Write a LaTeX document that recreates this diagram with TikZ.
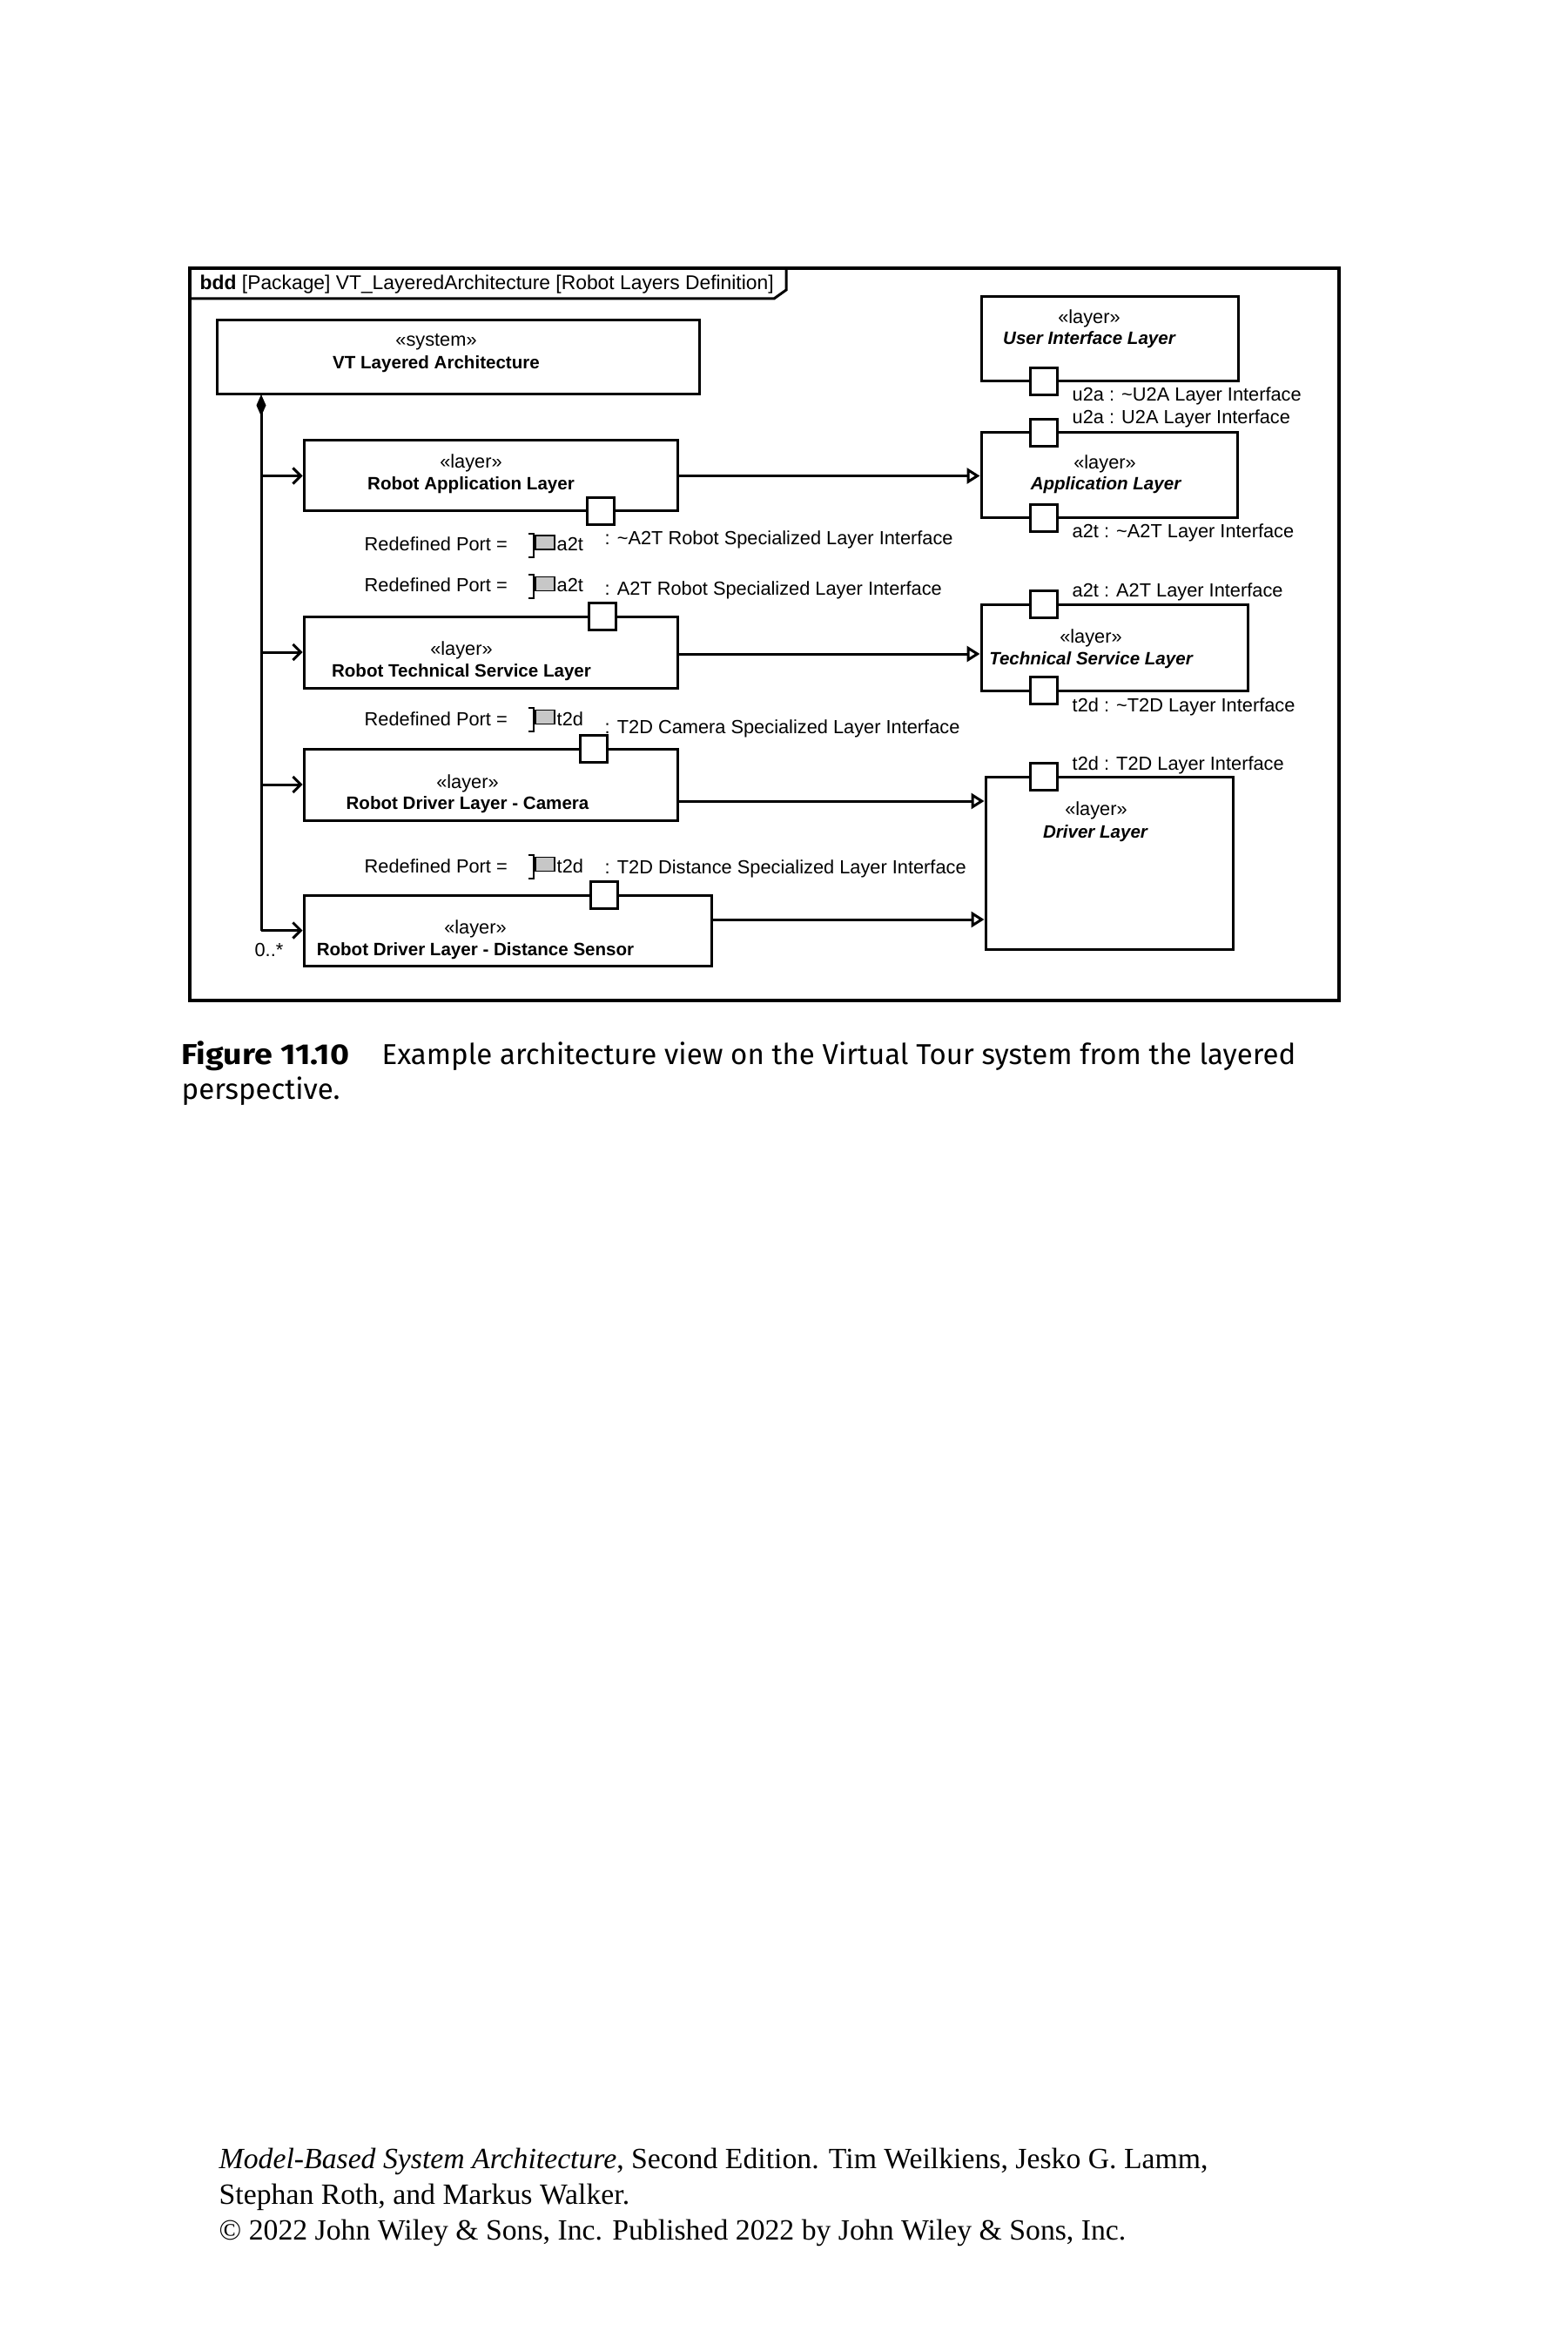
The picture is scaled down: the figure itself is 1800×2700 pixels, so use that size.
\documentclass[tikz,border=0pt]{standalone}
\usepackage{fontspec}
\setmainfont{Liberation Sans}
\newfontfamily\capfont{Fira Sans}
\newfontfamily\capnumfont[FakeStretch=1.14]{Fira Sans}
\newfontfamily\bookfont{Liberation Serif}
\usetikzlibrary{arrows.meta}
\usetikzlibrary{fit}

\newcommand{\umlsize}{\fontsize{6.2}{7.5}\selectfont}
\newcommand{\namesize}{\fontsize{5.85}{7}\selectfont}

\begin{document}
\begin{tikzpicture}[x=0.1mm,y=-0.1mm,
	blockbox/.style={draw,line width=0.3mm,inner sep=0pt},
	portbox/.style={draw,fill=white,line width=0.3mm,minimum size=3.1mm,inner sep=0pt},
	txt/.style={font=\umlsize,inner sep=0pt},
	bname/.style={font=\namesize\bfseries,inner sep=0pt},
	lbl/.style={font=\umlsize,inner sep=0pt,anchor=base west},
	comp/.style={line width=0.3mm,-{Straight Barb[length=0.9mm,width=1.8mm]}},
	gen/.style={line width=0.3mm,-{Triangle[length=1.5mm,width=1.8mm,fill=white]}}]
	\useasboundingbox (0,0) rectangle (1800,2700);

	% diagram frame
	\draw[line width=0.35mm] (218,308) rectangle (1538,1149);
	\draw[line width=0.3mm] (218,343) -- (889,343) -- (903,333) -- (903,308);
	\node[lbl,font=\fontsize{6.5}{7.8}\selectfont] (title) at (229,333) {\textbf{bdd} [Package] VT\_LayeredArchitecture [Robot Layers Definition]};

	% robot side
	\node[blockbox,fit={(249,368) (803,453)}] (sys) {};
	\node[txt] (sysst) at (501,393) {«system»};
	\node[bname] (sysname) at (501,418) {VT Layered Architecture};

	\node[blockbox,fit={(349,506) (778,587)}] (ral) {};
	\node[txt] (ralst) at (541,532) {«layer»};
	\node[bname] (ralname) at (541,557) {Robot Application Layer};
	\node[portbox] (ralp) at (690,587) {};

	\node[blockbox,fit={(349,708) (778,790)}] (rtsl) {};
	\node[txt] (rtslst) at (530,747) {«layer»};
	\node[bname] (rtslname) at (530,772) {Robot Technical Service Layer};
	\node[portbox] (rtslp) at (692,708) {};

	\node[blockbox,fit={(349,860) (778,942)}] (rdlc) {};
	\node[txt] (rdlcst) at (537,900) {«layer»};
	\node[bname] (rdlcname) at (537,924) {Robot Driver Layer - Camera};
	\node[portbox] (rdlcp) at (682,860) {};

	\node[blockbox,fit={(349,1028) (817,1109)}] (rdls) {};
	\node[txt] (rdlsst) at (546,1067) {«layer»};
	\node[bname] (rdlsname) at (546,1092) {Robot Driver Layer - Distance Sensor};
	\node[portbox] (rdlsp) at (694,1028) {};

	% redefined ports
	\foreach \row/\yb/\pname/\ty/\itxt in {1/633/a2t/626/{: \textasciitilde A2T Robot Specialized Layer Interface},
		2/680/a2t/684/{: A2T Robot Specialized Layer Interface},
		3/833/t2d/842/{: T2D Camera Specialized Layer Interface},
		4/1002/t2d/1003/{: T2D Distance Specialized Layer Interface}}{
		\node[lbl] (rd\row) at (418,\yb) {Redefined Port =};
		\draw[line width=0.15mm] (607,\yb-20) -- (613,\yb-20) -- (613,\yb+7) -- (607,\yb+7);
		\node[draw,line width=0.15mm,fill=black!22,minimum width=2.2mm,minimum height=1.6mm,inner sep=0pt,anchor=south west] (ri\row) at (614,\yb-1) {};
		\node[lbl] (rp\row) at (639,\yb) {\pname};
		\node[lbl] (rt\row) at (694,\ty) {\itxt};
	}

	% composition
	\coordinate (trunk) at (300,453);
	\draw[line width=0.3mm,{Diamond[length=2.5mm,width=1.1mm]}-] (trunk) -- (trunk |- rdls.west);
	\draw[comp] (trunk |- ral.west) -- (ral.west);
	\draw[comp] (trunk |- rtsl.west) -- (rtsl.west);
	\draw[comp] (trunk |- rdlc.west) -- (rdlc.west);
	\draw[comp] (trunk |- rdls.west) -- (rdls.west);
	\node[txt,anchor=base east] (mult) at (326,1098) {0..*};

	% layer side
	\node[blockbox,fit={(1127,341) (1422,438)}] (uil) {};
	\node[txt] (uilst) at (1251,366) {«layer»};
	\node[bname,font=\namesize\bfseries\itshape] (uilname) at (1251,390) {User Interface Layer};
	\node[portbox] (uilp) at (1199,438) {};
	\node[lbl] (uilpl) at (1231,461) {u2a : \textasciitilde U2A Layer Interface};

	\node[blockbox,fit={(1127,497) (1421,595)}] (al) {};
	\node[txt] (alst) at (1269,533) {«layer»};
	\node[bname,font=\namesize\bfseries\itshape] (alname) at (1270,557) {Application Layer};
	\node[portbox] (alpu) at (1199,497) {};
	\node[portbox] (alpd) at (1199,595) {};
	\node[lbl] (alpul) at (1231,487) {u2a : U2A Layer Interface};
	\node[lbl] (alpdl) at (1231,618) {a2t : \textasciitilde A2T Layer Interface};

	\node[blockbox,fit={(1127,694) (1433,793)}] (tsl) {};
	\node[txt] (tslst) at (1253,733) {«layer»};
	\node[bname,font=\namesize\bfseries\itshape] (tslname) at (1253,758) {Technical Service Layer};
	\node[portbox] (tslpu) at (1199,694) {};
	\node[portbox] (tslpd) at (1199,793) {};
	\node[lbl] (tslpul) at (1231,685) {a2t : A2T Layer Interface};
	\node[lbl] (tslpdl) at (1231,817) {t2d : \textasciitilde T2D Layer Interface};

	\node[blockbox,fit={(1132,892) (1416,1090)}] (dl) {};
	\node[txt] (dlst) at (1259,931) {«layer»};
	\node[bname,font=\namesize\bfseries\itshape] (dlname) at (1258,957) {Driver Layer};
	\node[portbox] (dlp) at (1199,892) {};
	\node[lbl] (dlpl) at (1231,884) {t2d : T2D Layer Interface};

	% generalizations
	\draw[gen] (ral.east) -- (ral.east -| al.west);
	\draw[gen] ([yshift=-0.2mm]rtsl.east) -- ([yshift=-0.2mm]rtsl.east -| tsl.west);
	\draw[gen] ([yshift=-1.9mm]rdlc.east) -- ([yshift=-1.9mm]rdlc.east -| dl.west);
	\draw[gen] ([yshift=1.25mm]rdls.east) -- ([yshift=1.25mm]rdls.east -| dl.west);

	% caption
	\node[inner sep=0pt,anchor=base west,font=\capnumfont\fontsize{9.4}{11}\selectfont\bfseries] (fignum) at (208,1222) {Figure 11.10};
	\node[inner sep=0pt,anchor=base west,font=\capfont\fontsize{9.4}{11}\selectfont] (figtxt) at (438,1222) {Example architecture view on the Virtual Tour system from the layered};
	\node[inner sep=0pt,anchor=base west,font=\capfont\fontsize{9.4}{11}\selectfont] (figtxt2) at (208,1262) {perspective.};

	% book footer
	\node[inner sep=0pt,anchor=base west,font=\bookfont\fontsize{9.6}{11}\selectfont] (foot1) at (251,2490) {\textit{Model-Based System Architecture}, Second Edition. Tim Weilkiens, Jesko G. Lamm,};
	\node[inner sep=0pt,anchor=base west,font=\bookfont\fontsize{9.6}{11}\selectfont] (foot2) at (251,2531) {Stephan Roth, and Markus Walker.};
	\node[inner sep=0pt,anchor=base west,font=\bookfont\fontsize{9.6}{11}\selectfont] (foot3) at (251,2572) {© 2022 John Wiley \& Sons, Inc. Published 2022 by John Wiley \& Sons, Inc.};
\end{tikzpicture}
\end{document}
